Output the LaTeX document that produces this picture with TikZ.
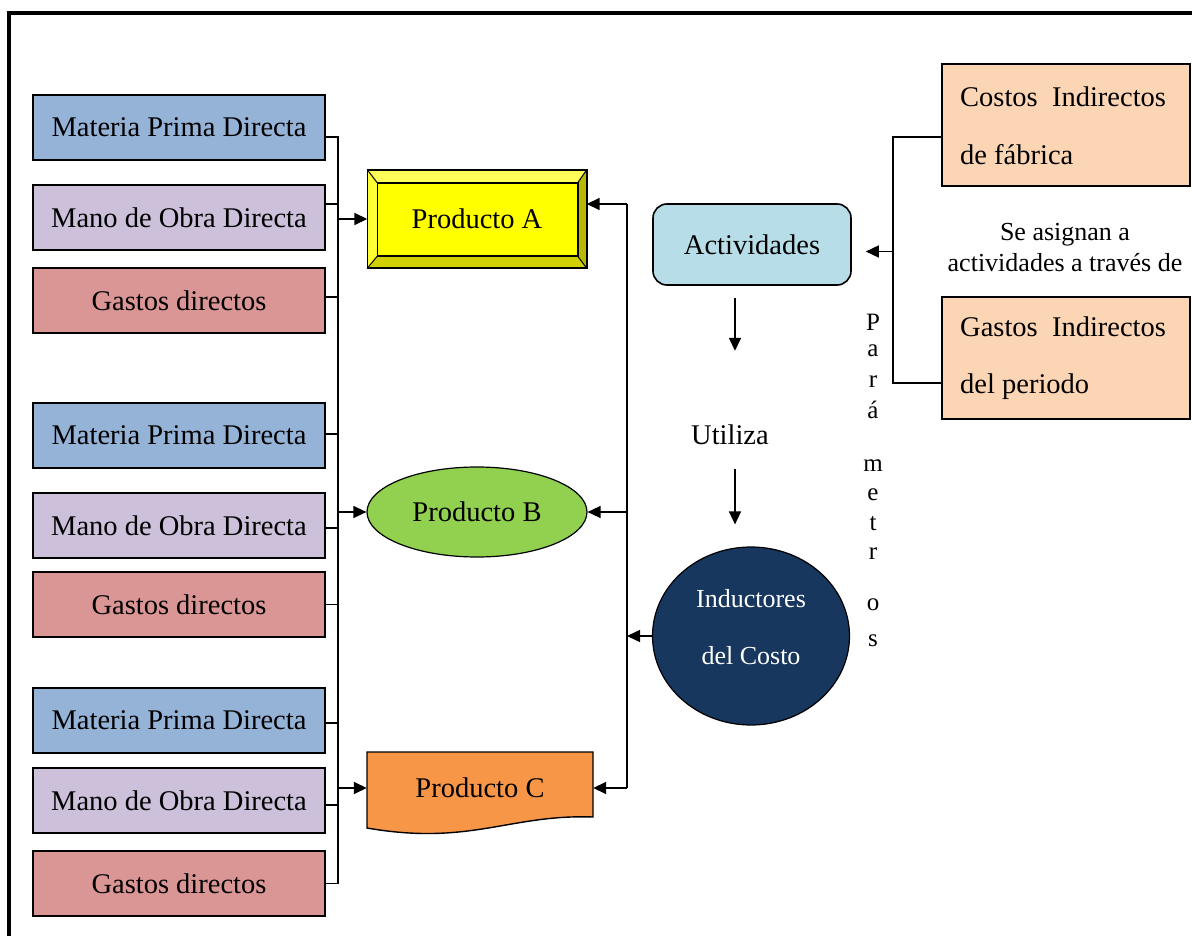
\documentclass[tikz,border=0pt]{standalone}
\usepackage{fontspec}
\setmainfont{Liberation Serif}
\usetikzlibrary{calc,shapes.geometric,arrows.meta,backgrounds}
\definecolor{mpdblue}{HTML}{95B3D7}
\definecolor{modlila}{HTML}{CCC0DA}
\definecolor{gdred}{HTML}{DA9694}
\definecolor{prodyel}{HTML}{FFFF00}
\definecolor{bevtop}{HTML}{FFFF5A}
\definecolor{bevleft}{HTML}{FFFF33}
\definecolor{bevbottom}{HTML}{D0D000}
\definecolor{bevright}{HTML}{B8B800}
\definecolor{prodgreen}{HTML}{92D050}
\definecolor{prodorange}{HTML}{F79646}
\definecolor{actblue}{HTML}{B7DEE8}
\definecolor{indnavy}{HTML}{17375E}
\definecolor{cifpeach}{HTML}{FCD5B5}

\begin{document}
\begin{tikzpicture}[x=1pt,y=-1pt,
  every node/.style={inner sep=0pt, font=\fontsize{28.5}{30}\selectfont},
  costbox/.style={draw, line width=1.6pt, minimum width=292pt, minimum height=65pt},
  peachbox/.style={draw, line width=1.6pt, fill=cifpeach, minimum width=248pt, minimum height=122pt},
  ln/.style={line width=1.6pt},
  arr/.style={line width=1.6pt, -{Triangle[length=13pt,width=12pt]}},
]
\useasboundingbox (0,0) rectangle (1192,936);

% outer frame (only its top and left sides fall on the page)
\begin{scope}
  \clip (0,0) rectangle (1192,936);
  \draw[line width=4pt] (9,13) rectangle (1260,1010);
\end{scope}

% direct cost boxes
\node[costbox, fill=mpdblue] (mpd1) at (179,127.5) {Materia Prima Directa};
\node[costbox, fill=modlila] (mod1) at (179,217.5) {Mano de Obra Directa};
\node[costbox, fill=gdred]   (gd1)  at (179,300.5) {Gastos directos};
\node[costbox, fill=mpdblue] (mpd2) at (179,435.5) {Materia Prima Directa};
\node[costbox, fill=modlila] (mod2) at (179,525.5) {Mano de Obra Directa};
\node[costbox, fill=gdred]   (gd2)  at (179,604.5) {Gastos directos};
\node[costbox, fill=mpdblue] (mpd3) at (179,720.5) {Materia Prima Directa};
\node[costbox, fill=modlila] (mod3) at (179,800.5) {Mano de Obra Directa};
\node[costbox, fill=gdred]   (gd3)  at (179,883.5) {Gastos directos};

% products
\node[minimum width=219pt, minimum height=98pt] (prodA) at (477,219) {Producto A};
\begin{scope}[on background layer]
  \coordinate (aNW) at (prodA.north west);
  \coordinate (aNE) at (prodA.north east);
  \coordinate (aSE) at (prodA.south east);
  \coordinate (aSW) at (prodA.south west);
  \coordinate (iNW) at ($(aNW)+(10,13)$);
  \coordinate (iNE) at ($(aNE)+(-9,13)$);
  \coordinate (iSE) at ($(aSE)+(-9,-12)$);
  \coordinate (iSW) at ($(aSW)+(10,-12)$);
  \fill[bevtop] (aNW) -- (aNE) -- (iNE) -- (iNW) -- cycle;
  \fill[bevleft] (aNW) -- (iNW) -- (iSW) -- (aSW) -- cycle;
  \fill[bevbottom] (aSW) -- (iSW) -- (iSE) -- (aSE) -- cycle;
  \fill[bevright] (aNE) -- (aSE) -- (iSE) -- (iNE) -- cycle;
  \draw[line width=1pt] (aNW) -- (iNW) (aNE) -- (iNE) (aSE) -- (iSE) (aSW) -- (iSW);
  \draw[line width=1.6pt, fill=prodyel] (iNW) rectangle (iSE);
  \draw[line width=1.6pt] (aNW) rectangle (aSE);
\end{scope}

\node[ellipse, draw, line width=1.2pt, fill=prodgreen, minimum width=220pt, minimum height=90pt] (prodB) at (477,512) {Producto B};

\node[minimum width=226pt, minimum height=72pt] (prodC) at (480,788) {Producto C};
\begin{scope}[on background layer]
  \draw[line width=1.4pt, fill=prodorange] (367,752) -- (593,752) -- (593,817)
    .. controls (510,814) and (470,846) .. (367,828) -- cycle;
\end{scope}

% activities and cost drivers
\node[draw, line width=1.6pt, rounded corners=14pt, fill=actblue, minimum width=198pt, minimum height=81pt] (act) at (752,244.5) {Actividades};
\node (uti) at (730,435) {Utiliza};
\node[ellipse, draw, line width=1.2pt, fill=indnavy, minimum width=197pt, minimum height=178pt] (ind) at (751,636) {};
\node[text=white, align=center, font=\fontsize{26}{57}\selectfont] (indtext) at (751,627) {Inductores\\del Costo};

% indirect cost boxes
\node[peachbox] (cif) at (1066,125) {};
\node[anchor=west, align=left, font=\fontsize{28.5}{58}\selectfont] (ciftext) at (960,126) {Costos\ \ Indirectos\\de fábrica};
\node[peachbox] (gip) at (1066,358) {};
\node[anchor=west, align=left, font=\fontsize{28.5}{57}\selectfont] (giptext) at (960,358.5) {Gastos\ \ Indirectos\\del periodo};
\node[align=center, font=\fontsize{26}{31}\selectfont] (asig) at (1065,248) {Se asignan a\\actividades a través de};

% vertical label
\foreach \l/\yy [count=\i] in {P/322,a/351,r/382,á/410,m/466,e/495,t/524,r/554,o/605,s/641}
  \node[font=\fontsize{25}{25}\selectfont] (par\i) at (873,\yy) {\l};

% bus lines
\coordinate (lb) at (338,0);
\coordinate (rb) at (627,0);
\coordinate (cb) at (893,0);

% left bus: direct costs into products
\coordinate (t1) at ($(mpd1.east)+(0,9.5)$);
\coordinate (t2) at ($(mod1.east)+(0,-13.5)$);
\coordinate (t3) at ($(gd1.east)+(0,-3.5)$);
\coordinate (t4) at ($(mpd2.east)+(0,-1.5)$);
\coordinate (t5) at ($(mod2.east)+(0,2.5)$);
\coordinate (t6) at (gd2.east);
\coordinate (t7) at ($(mpd3.east)+(0,2.5)$);
\coordinate (t8) at ($(mod3.east)+(0,4.5)$);
\coordinate (t9) at (gd3.east);
\draw[ln] (t1) -- (t1 -| lb) -- (t9 -| lb) -- (t9);
\foreach \k in {2,...,8}
  \draw[ln] (t\k) -- (t\k -| lb);
\draw[arr] (prodA.west -| lb) -- (prodA.west);
\draw[arr] (prodB.west -| lb) -- (prodB.west);
\draw[arr] (prodC.west -| lb) -- (prodC.west);

% right bus: cost drivers into products
\coordinate (pA) at ($(prodA.east)+(0,-15)$);
\draw[ln] (pA -| rb) -- (prodC.east -| rb);
\draw[arr] (pA -| rb) -- (pA);
\draw[arr] (prodB.east -| rb) -- (prodB.east);
\draw[arr] (prodC.east -| rb) -- (prodC.east);
\draw[arr] (ind.west) -- (ind.west -| rb);

% indirect costs assigned to activities
\coordinate (c1) at ($(cif.west)+(0,12)$);
\coordinate (c2) at ($(gip.west)+(0,25)$);
\coordinate (aE) at ($(act.east)+(0,7)$);
\draw[ln] (c1) -- (c1 -| cb) -- (c2 -| cb) -- (c2);
\draw[arr] (aE -| cb) -- ($(aE)+(14,0)$);

% activities use cost drivers
\draw[arr] ($(act.south)+(-17,12)$) -- ($(act.south)+(-17,65)$);
\draw[arr] ($(ind.north)+(-16,-77)$) -- ($(ind.north)+(-16,-22)$);

\end{tikzpicture}
\end{document}
